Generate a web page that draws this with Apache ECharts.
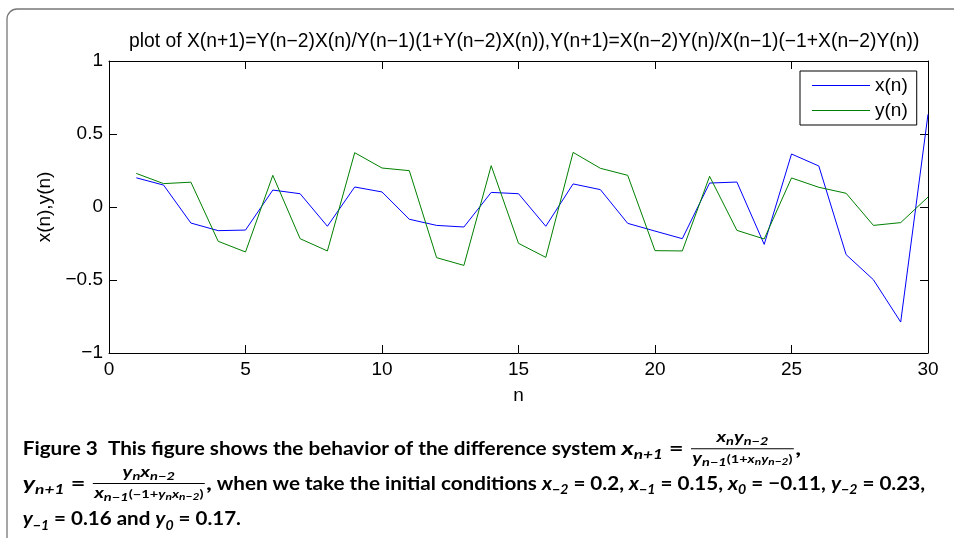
<!DOCTYPE html>
<html>
<head>
<meta charset="utf-8">
<script src="https://cdn.jsdelivr.net/npm/echarts@6/dist/echarts.min.js"></script>
<style>
  html, body { margin: 0; padding: 0; background: #fff; }
  #main { width: 954px; height: 538px; }
</style>
</head>
<body>
<div id="main"></div>
<script>
// 数据
var nValues = [1, 2, 3, 4, 5, 6, 7, 8, 9, 10, 11, 12, 13, 14, 15, 16, 17, 18, 19, 20, 21, 22, 23, 24, 25, 26, 27, 28, 29, 30];
var xValues = [0.20, 0.15, -0.11, -0.162, -0.158, 0.116, 0.091, -0.132, 0.137, 0.103,
    -0.084, -0.126, -0.137, 0.100, 0.091, -0.132, 0.158, 0.119, -0.112, -0.165,
    -0.217, 0.164, 0.171, -0.256, 0.363, 0.281, -0.326, -0.498, -0.788, 0.635];
var yValues = [0.23, 0.16, 0.17, -0.235, -0.308, 0.217, -0.217, -0.301, 0.372, 0.267,
    0.249, -0.347, -0.400, 0.283, -0.249, -0.345, 0.374, 0.265, 0.217, -0.299,
    -0.301, 0.210, -0.160, -0.219, 0.199, 0.135, 0.094, -0.126, -0.107, 0.068];
var seriesNames = ['x(n)', 'y(n)'];
var titleText = 'plot of X(n+1)=Y(n\u22122)X(n)/Y(n\u22121)(1+Y(n\u22122)X(n)),Y(n+1)=X(n\u22122)Y(n)/X(n\u22121)(\u22121+X(n\u22122)Y(n))';

function pairs(xs, ys) {
    var out = [];
    for (var i = 0; i < xs.length; i++) {
        out.push([xs[i], ys[i]]);
    }
    return out;
}

// 图注排版
var measureCtx = document.createElement('canvas').getContext('2d');
var CAP_FONT = 'Lato';
function fnt(r) {
    return (r.i ? 'italic ' : '') + 'bold ' + r.s + 'px ' + CAP_FONT;
}
function runW(r) {
    measureCtx.font = fnt(r);
    return measureCtx.measureText(r.t).width;
}
function seqW(rs) {
    var total = 0;
    for (var i = 0; i < rs.length; i++) {
        total += rs[i].frac ? fracW(rs[i]) : runW(rs[i]);
    }
    return total;
}
function fracW(f) {
    return Math.max(seqW(f.num), seqW(f.den)) + 4;
}
function place(rs, x, base, out) {
    for (var i = 0; i < rs.length; i++) {
        var r = rs[i];
        if (r.frac) {
            var fw = fracW(r), nw = seqW(r.num), dw = seqW(r.den);
            out.push({
                type: 'line',
                shape: {x1: x + 1, y1: base + r.bar, x2: x + fw - 1, y2: base + r.bar},
                style: {stroke: '#000', lineWidth: 1}
            });
            place(r.num, x + (fw - nw) / 2, base + r.nd, out);
            place(r.den, x + (fw - dw) / 2, base + r.dd, out);
            x += fw;
        } else {
            var b = base + (r.dy || 0);
            out.push({
                type: 'text',
                x: x,
                y: b - 0.35 * r.s,
                style: {text: r.t, font: fnt(r), fill: '#000', align: 'left', verticalAlign: 'middle'}
            });
            x += runW(r);
        }
    }
    return x;
}
function segment(rs, x0, x1, base) {
    var kids = [];
    var end = place(rs, 0, base, kids);
    return {type: 'group', x: x0, y: 0, scaleX: (x1 - x0) / end, silent: true, children: kids};
}

var M = 19, S = 13;
function v(t) { return {t: t, s: M, i: 1}; }
function sub(t) { return {t: t, s: S, i: 1, dy: 4}; }
function tx(t) { return {t: t, s: M}; }

var fracX = {
    frac: 1, bar: -7, nd: -13.5, dd: 7.5,
    num: [{t: 'x', s: 15, i: 1}, {t: 'n', s: 11, i: 1, dy: 3}, {t: 'y', s: 15, i: 1}, {t: 'n\u22122', s: 11, i: 1, dy: 3}],
    den: [{t: 'y', s: 15, i: 1}, {t: 'n\u22121', s: 11, i: 1, dy: 3}, {t: '(1+', s: 11}, {t: 'x', s: 11, i: 1},
        {t: 'n', s: 9, i: 1, dy: 2}, {t: 'y', s: 11, i: 1}, {t: 'n\u22122', s: 9, i: 1, dy: 2}, {t: ')', s: 11}]
};
var fracY = {
    frac: 1, bar: -7, nd: -13, dd: 7.5,
    num: [{t: 'y', s: 15, i: 1}, {t: 'n', s: 11, i: 1, dy: 3}, {t: 'x', s: 15, i: 1}, {t: 'n\u22122', s: 11, i: 1, dy: 3}],
    den: [{t: 'x', s: 15, i: 1}, {t: 'n\u22121', s: 11, i: 1, dy: 3}, {t: '(\u22121+', s: 11}, {t: 'y', s: 11, i: 1},
        {t: 'n', s: 9, i: 1, dy: 2}, {t: 'x', s: 11, i: 1}, {t: 'n\u22122', s: 9, i: 1, dy: 2}, {t: ')', s: 11}]
};

var caption = [
    segment([tx('Figure 3  This figure shows the behavior of the difference system ')], 22.7, 621.5, 455.7),
    segment([v('x'), sub('n+1'), tx(' = '), fracX, tx(',')], 621.5, 801, 455.7),
    segment([v('y'), sub('n+1'), tx(' = '), fracY, tx(',')], 22.7, 212, 490.5),
    segment([tx('when we take the initial conditions '), v('x'), sub('\u22122'), tx(' = 0.2, '),
        v('x'), sub('\u22121'), tx(' = 0.15, '), v('x'), sub('0'), tx(' = \u22120.11, '),
        v('y'), sub('\u22122'), tx(' = 0.23,')], 216.7, 925, 490.5),
    segment([v('y'), sub('\u22121'), tx(' = 0.16 and '), v('y'), sub('0'), tx(' = 0.17.')], 22.7, 241, 526)
];

var axisFont = 'Liberation Sans';
var black = '#000';
var FS = 19;

function minusFmt(val) {
    return String(val).replace('-', '\u2212');
}
function frameAxis(extra) {
    var base = {
        axisLine: {show: true, onZero: false, lineStyle: {color: black, width: 1}},
        axisTick: {show: true, inside: true, length: 8, lineStyle: {color: black}},
        splitLine: {show: false}
    };
    for (var k in extra) base[k] = extra[k];
    return base;
}

var myChart = echarts.init(document.getElementById('main'));
var option = {
    animation: false,
    backgroundColor: '#fff',
    title: {
        text: titleText,
        left: 124,
        top: 27,
        textStyle: {fontFamily: axisFont, fontSize: 19.3, fontWeight: 'normal', color: black}
    },
    legend: {
        data: [
            {name: seriesNames[0], icon: 'rect'},
            {name: seriesNames[1], icon: 'rect'}
        ],
        orient: 'vertical',
        left: 800,
        top: 71,
        padding: [5, 9, 5, 12],
        itemWidth: 58,
        itemHeight: 1,
        itemGap: 6,
        borderColor: black,
        borderWidth: 1,
        borderRadius: 0,
        backgroundColor: '#fff',
        textStyle: {fontFamily: axisFont, fontSize: FS, color: black}
    },
    grid: {left: 109, right: 26, top: 61, bottom: 185},
    xAxis: [
        frameAxis({
            type: 'value', min: 0, max: 30, interval: 5, position: 'bottom',
            axisLabel: {color: black, fontSize: FS, fontFamily: axisFont, margin: 7},
            name: 'n', nameLocation: 'middle', nameGap: 33,
            nameTextStyle: {color: black, fontSize: FS, fontFamily: axisFont}
        }),
        frameAxis({
            type: 'value', min: 0, max: 30, interval: 5, position: 'top',
            axisLabel: {show: false}
        })
    ],
    yAxis: [
        frameAxis({
            type: 'value', min: -1, max: 1, interval: 0.5, position: 'left',
            axisLabel: {color: black, fontSize: FS, fontFamily: axisFont, margin: 6, formatter: minusFmt},
            name: 'x(n),y(n)', nameLocation: 'middle', nameGap: 47,
            nameTextStyle: {color: black, fontSize: FS, fontFamily: axisFont}
        }),
        frameAxis({
            type: 'value', min: -1, max: 1, interval: 0.5, position: 'right',
            axisLabel: {show: false}
        })
    ],
    series: [
        {
            name: seriesNames[0], type: 'line', symbol: 'none',
            data: pairs(nValues, xValues),
            lineStyle: {color: '#0000ff', width: 1},
            itemStyle: {color: '#0000ff'}
        },
        {
            name: seriesNames[1], type: 'line', symbol: 'none',
            data: pairs(nValues, yValues),
            lineStyle: {color: '#008000', width: 1},
            itemStyle: {color: '#008000'}
        }
    ],
    graphic: [
        {
            type: 'rect', silent: true, z: -10,
            shape: {x: 7, y: 9, width: 1000, height: 600, r: 10},
            style: {fill: 'none', stroke: '#777', lineWidth: 1.3}
        }
    ].concat(caption)
};
myChart.setOption(option);
</script>
</body>
</html>
